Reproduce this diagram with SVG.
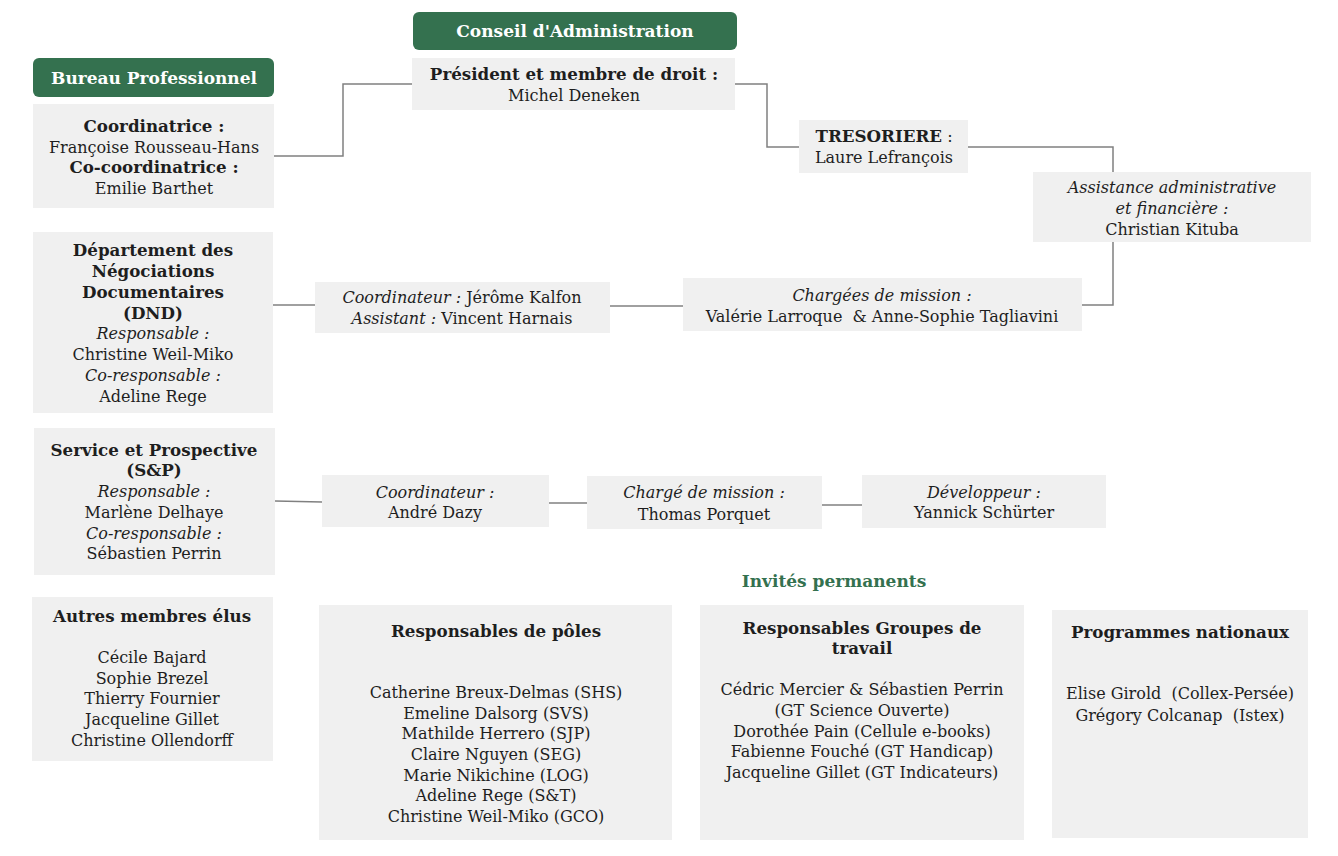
<svg xmlns="http://www.w3.org/2000/svg" width="1338" height="856" viewBox="0 0 1338 856">
<style>
  text { font-family: "DejaVu Serif", Georgia, serif; font-size: 16px; fill: #1e1e1e; text-anchor: middle; }
  .b { font-weight: bold; font-size: 16.7px; }
  tspan.b { font-size: 16.7px; }
  .i { font-style: italic; }
  .hd { fill: #ffffff; font-weight: bold; font-size: 17px; }
  .green { fill: #34714f; }
  .gt { fill: #34714f; font-weight: bold; font-size: 17px; }
  .box { fill: #f0f0f0; }
  .conn { fill: none; stroke: #808080; stroke-width: 1.5; }
</style>
<rect width="1338" height="856" fill="#ffffff"/>
<g id="connectors">
  <polyline class="conn" points="274,156 343,156 343,84 412,84"/>
  <polyline class="conn" points="735,84 767,84 767,147 799,147"/>
  <polyline class="conn" points="968,147 1113,147 1113,172"/>
  <polyline class="conn" points="1113,242 1113,305 1082,305"/>
  <line class="conn" x1="610" y1="306" x2="683" y2="306"/>
  <line class="conn" x1="273" y1="305" x2="315" y2="305"/>
  <line class="conn" x1="275" y1="501" x2="322" y2="502"/>
  <line class="conn" x1="549" y1="503" x2="587" y2="503"/>
  <line class="conn" x1="822" y1="505" x2="862" y2="505"/>
</g>
<g id="conseil-header">
  <rect class="green" x="413" y="12" width="324" height="38" rx="6"/>
  <text class="hd" x="575" y="37">Conseil d'Administration</text>
</g>
<g id="bureau-header">
  <rect class="green" x="33" y="58" width="241" height="39" rx="6"/>
  <text class="hd" x="154" y="84">Bureau Professionnel</text>
</g>
<g id="president">
  <rect class="box" x="412" y="58" width="323" height="52"/>
  <text class="b" x="574" y="80">Président et membre de droit :</text>
  <text x="574" y="101">Michel Deneken</text>
</g>
<g id="bureau">
  <rect class="box" x="33" y="104" width="241" height="104"/>
  <text class="b" x="154" y="132">Coordinatrice :</text>
  <text x="154" y="153">Françoise Rousseau-Hans</text>
  <text class="b" x="154" y="173">Co-coordinatrice :</text>
  <text x="154" y="194">Emilie Barthet</text>
</g>
<g id="tresoriere">
  <rect class="box" x="799" y="120" width="169" height="53"/>
  <text x="884" y="142"><tspan class="b">TRESORIERE</tspan> :</text>
  <text x="884" y="163">Laure Lefrançois</text>
</g>
<g id="assistance">
  <rect class="box" x="1033" y="172" width="278" height="70"/>
  <text class="i" x="1172" y="193">Assistance administrative</text>
  <text class="i" x="1172" y="214">et financière :</text>
  <text x="1172" y="235">Christian Kituba</text>
</g>
<g id="dnd">
  <rect class="box" x="33" y="232" width="240" height="181"/>
  <text class="b" x="153" y="256">Département des</text>
  <text class="b" x="153" y="277">Négociations</text>
  <text class="b" x="153" y="298">Documentaires</text>
  <text class="b" x="153" y="319">(DND)</text>
  <text class="i" x="153" y="339">Responsable :</text>
  <text x="153" y="360">Christine Weil-Miko</text>
  <text class="i" x="153" y="381">Co-responsable :</text>
  <text x="153" y="402">Adeline Rege</text>
</g>
<g id="dnd-coord">
  <rect class="box" x="315" y="282" width="295" height="51"/>
  <text x="462" y="303"><tspan class="i">Coordinateur :</tspan> Jérôme Kalfon</text>
  <text x="462" y="324"><tspan class="i">Assistant :</tspan> Vincent Harnais</text>
</g>
<g id="dnd-mission">
  <rect class="box" x="683" y="278" width="399" height="53"/>
  <text class="i" x="882" y="301">Chargées de mission :</text>
  <text x="882" y="322" xml:space="preserve">Valérie Larroque  &amp; Anne-Sophie Tagliavini</text>
</g>
<g id="sp">
  <rect class="box" x="34" y="428" width="241" height="147"/>
  <text class="b" x="154" y="456">Service et Prospective</text>
  <text class="b" x="154" y="476">(S&amp;P)</text>
  <text class="i" x="154" y="497">Responsable :</text>
  <text x="154" y="518">Marlène Delhaye</text>
  <text class="i" x="154" y="539">Co-responsable :</text>
  <text x="154" y="559">Sébastien Perrin</text>
</g>
<g id="sp-coord">
  <rect class="box" x="322" y="475" width="227" height="52"/>
  <text class="i" x="435" y="498">Coordinateur :</text>
  <text x="435" y="518">André Dazy</text>
</g>
<g id="sp-mission">
  <rect class="box" x="587" y="476" width="235" height="53"/>
  <text class="i" x="704" y="498">Chargé de mission :</text>
  <text x="704" y="520">Thomas Porquet</text>
</g>
<g id="sp-dev">
  <rect class="box" x="862" y="475" width="244" height="53"/>
  <text class="i" x="984" y="498">Développeur :</text>
  <text x="984" y="518">Yannick Schürter</text>
</g>
<g id="invites">
  <text class="gt" x="834" y="587">Invités permanents</text>
</g>
<g id="autres">
  <rect class="box" x="32" y="597" width="241" height="164"/>
  <text class="b" x="152" y="622">Autres membres élus</text>
  <text x="152" y="663">Cécile Bajard</text>
  <text x="152" y="684">Sophie Brezel</text>
  <text x="152" y="704">Thierry Fournier</text>
  <text x="152" y="725">Jacqueline Gillet</text>
  <text x="152" y="746">Christine Ollendorff</text>
</g>
<g id="poles">
  <rect class="box" x="319" y="605" width="353" height="235"/>
  <text class="b" x="496" y="637">Responsables de pôles</text>
  <text x="496" y="698">Catherine Breux-Delmas (SHS)</text>
  <text x="496" y="719">Emeline Dalsorg (SVS)</text>
  <text x="496" y="739">Mathilde Herrero (SJP)</text>
  <text x="496" y="760">Claire Nguyen (SEG)</text>
  <text x="496" y="781">Marie Nikichine (LOG)</text>
  <text x="496" y="801">Adeline Rege (S&amp;T)</text>
  <text x="496" y="822">Christine Weil-Miko (GCO)</text>
</g>
<g id="groupes">
  <rect class="box" x="700" y="605" width="324" height="235"/>
  <text class="b" x="862" y="634">Responsables Groupes de</text>
  <text class="b" x="862" y="654">travail</text>
  <text x="862" y="695">Cédric Mercier &amp; Sébastien Perrin</text>
  <text x="862" y="716">(GT Science Ouverte)</text>
  <text x="862" y="737">Dorothée Pain (Cellule e-books)</text>
  <text x="862" y="757">Fabienne Fouché (GT Handicap)</text>
  <text x="862" y="778">Jacqueline Gillet (GT Indicateurs)</text>
</g>
<g id="programmes">
  <rect class="box" x="1052" y="610" width="256" height="228"/>
  <text class="b" x="1180" y="638">Programmes nationaux</text>
  <text x="1180" y="699" xml:space="preserve">Elise Girold  (Collex-Persée)</text>
  <text x="1180" y="721" xml:space="preserve">Grégory Colcanap  (Istex)</text>
</g>
</svg>
